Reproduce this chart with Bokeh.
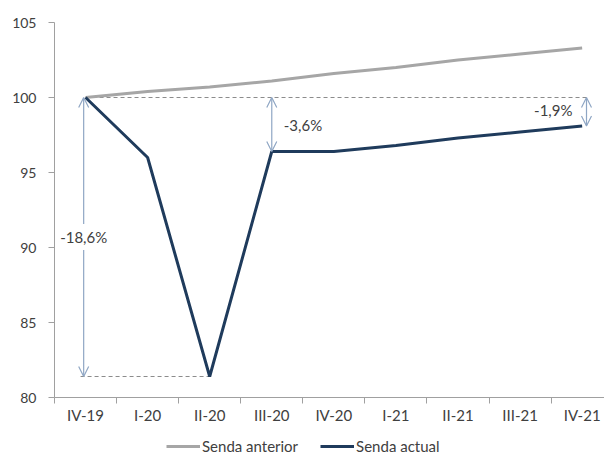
from bokeh.plotting import figure
from bokeh.layouts import column
from bokeh.models import (FixedTicker, Legend, LegendItem, Arrow, OpenHead, Label,
                          ColumnDataSource, Range1d)
from bokeh.embed import file_html
from bokeh.resources import INLINE

quarters = ["IV-19", "I-20", "II-20", "III-20", "IV-20", "I-21", "II-21", "III-21", "IV-21"]
senda_anterior = [100.0, 100.4, 100.7, 101.1, 101.6, 102.0, 102.5, 102.9, 103.3]
senda_actual = [100.0, 96.0, 81.4, 96.4, 96.4, 96.8, 97.3, 97.7, 98.1]
series_names = ["Senda anterior", "Senda actual"]
y_ticks = [80, 85, 90, 95, 100, 105]

xs = [i + 0.5 for i in range(len(quarters))]
src = ColumnDataSource(dict(x=xs, ant=senda_anterior, act=senda_actual))

FONT = "Lato"
TXT = "#404040"
C_ANT = "#a6a6a6"
C_ACT = "#1f3b5c"

p = figure(frame_width=550, frame_height=375, min_border_left=54, min_border_right=0,
           min_border_top=22, min_border_bottom=30,
           x_range=Range1d(0, 8.86), y_range=Range1d(80, 105),
           output_backend="svg", toolbar_location=None)
p.outline_line_color = None
p.xgrid.visible = False
p.ygrid.visible = False
p.background_fill_color = "white"

# Axes
p.yaxis.ticker = FixedTicker(ticks=y_ticks)
p.yaxis.major_tick_in = 0
p.yaxis.major_tick_out = 6
p.yaxis.minor_tick_line_color = None
p.yaxis.axis_line_color = "#a0a0a0"
p.yaxis.major_tick_line_color = "#a0a0a0"
p.yaxis.major_label_text_font = FONT
p.yaxis.major_label_text_font_size = "14px"
p.yaxis.major_label_text_color = TXT
p.yaxis.major_label_standoff = 12

p.xaxis.ticker = FixedTicker(ticks=xs, minor_ticks=list(range(len(quarters) + 1)))
p.xaxis.major_label_overrides = {x: q for x, q in zip(xs, quarters)}
p.xaxis.major_tick_in = 0
p.xaxis.major_tick_out = 0
p.xaxis.minor_tick_in = 0
p.xaxis.minor_tick_out = 6
p.xaxis.minor_tick_line_color = "#a0a0a0"
p.xaxis.axis_line_color = "#a0a0a0"
p.xaxis.major_label_text_font = FONT
p.xaxis.major_label_text_font_size = "15px"
p.xaxis.major_label_text_color = TXT
p.xaxis.major_label_standoff = 2

# Annotation helpers derived from data
base = senda_actual[0]
i_min = senda_actual.index(min(senda_actual))
trough = senda_actual[i_min]
i_rec = 3
x_first = xs[0]
x_last = xs[-1]

def pct(v):
    return ("%.1f%%" % ((v / base - 1) * 100)).replace(".", ",")

# dashed reference lines
p.line([x_first, x_last + 0.08], [base, base], line_color="#8c8c8c", line_width=1, line_dash="4 3")
p.line([x_first - 0.08, xs[i_min]], [trough, trough], line_color="#8c8c8c", line_width=1, line_dash="4 3")

ARC = "#8fa6c4"
def darrow(x, y0, y1):
    p.add_layout(Arrow(x_start=x, y_start=y0, x_end=x, y_end=y1, line_color=ARC, line_width=1.2,
                       start=OpenHead(size=10, line_color=ARC, line_width=1.2),
                       end=OpenHead(size=10, line_color=ARC, line_width=1.2)))

darrow(x_first - 0.03, base, trough)
darrow(xs[i_rec], base, senda_actual[i_rec])
darrow(x_last + 0.07, base, senda_actual[-1])

# series
p.line("x", "ant", source=src, line_color=C_ANT, line_width=3)
p.line("x", "act", source=src, line_color=C_ACT, line_width=3)

# labels
p.add_layout(Label(x=x_first - 0.03, y=(base + trough) / 2, text=pct(trough), text_align="center",
                   text_baseline="middle", text_font=FONT, text_font_size="15px", text_color=TXT,
                   background_fill_color="white", background_fill_alpha=1.0,
                   padding=4))
p.add_layout(Label(x=xs[i_rec], y=(base + senda_actual[i_rec]) / 2, x_offset=12, text=pct(senda_actual[i_rec]),
                   text_align="left", text_baseline="middle", text_font=FONT, text_font_size="15px",
                   text_color=TXT))
p.add_layout(Label(x=x_last + 0.07, y=(base + senda_actual[-1]) / 2 + 0.1, x_offset=-14, text=pct(senda_actual[-1]),
                   text_align="right", text_baseline="middle", text_font=FONT, text_font_size="15px",
                   text_color=TXT))

# legend strip underneath (series drawn again here, outside the visible range, only to key the legend)
p2 = figure(frame_width=604, frame_height=32, min_border=0, x_range=Range1d(-100, -99), y_range=Range1d(0, 1),
            x_axis_type=None, y_axis_type=None, output_backend="svg", toolbar_location=None)
p2.outline_line_color = None
p2.xgrid.visible = False
p2.ygrid.visible = False
l_ant = p2.line("x", "ant", source=src, line_color=C_ANT, line_width=3)
l_act = p2.line("x", "act", source=src, line_color=C_ACT, line_width=3)
legend = Legend(items=[LegendItem(label=series_names[0], renderers=[l_ant]),
                       LegendItem(label=series_names[1], renderers=[l_act])],
                orientation="horizontal", location=(166, 4),
                label_text_font=FONT, label_text_font_size="15px", label_text_color=TXT,
                glyph_width=34, glyph_height=16, label_height=16, label_standoff=2, spacing=22,
                border_line_color=None, background_fill_alpha=0, padding=0, margin=0)
p2.add_layout(legend)

layout = column(p, p2, spacing=0)
open("out.html", "w").write(file_html(layout, INLINE))
